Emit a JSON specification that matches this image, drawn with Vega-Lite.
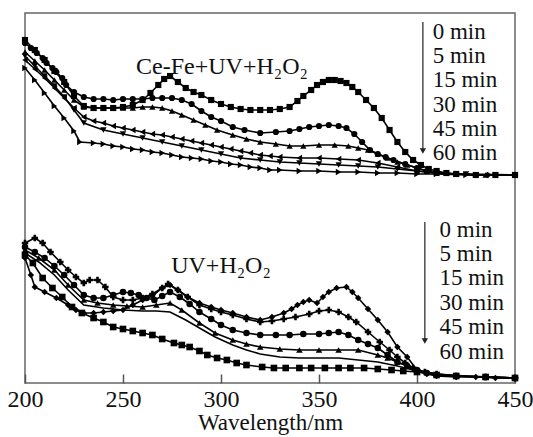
{
  "$schema": "https://vega.github.io/schema/vega-lite/v6.json",
  "width": 490,
  "height": 370,
  "autosize": "none",
  "padding": {"left": 25, "top": 13, "right": 18, "bottom": 54},
  "config": {
    "view": {"stroke": "#666", "strokeWidth": 1.5},
    "font": "Liberation Serif"
  },
  "datasets": {
    "curves": [
      {"g":"top","t":"0 min","w":200,"a":343},{"g":"top","t":"0 min","w":205,"a":333},{"g":"top","t":"0 min","w":210,"a":323},{"g":"top","t":"0 min","w":215,"a":312},{"g":"top","t":"0 min","w":220,"a":301},{"g":"top","t":"0 min","w":225,"a":287},{"g":"top","t":"0 min","w":230,"a":277},{"g":"top","t":"0 min","w":235,"a":275},{"g":"top","t":"0 min","w":240,"a":275},{"g":"top","t":"0 min","w":245,"a":275},{"g":"top","t":"0 min","w":250,"a":276},{"g":"top","t":"0 min","w":255,"a":278},{"g":"top","t":"0 min","w":260,"a":283},{"g":"top","t":"0 min","w":264,"a":290},{"g":"top","t":"0 min","w":268,"a":298},{"g":"top","t":"0 min","w":271,"a":304},{"g":"top","t":"0 min","w":274,"a":307},{"g":"top","t":"0 min","w":278,"a":301},{"g":"top","t":"0 min","w":282,"a":295},{"g":"top","t":"0 min","w":286,"a":291},{"g":"top","t":"0 min","w":290,"a":288},{"g":"top","t":"0 min","w":295,"a":283},{"g":"top","t":"0 min","w":300,"a":279},{"g":"top","t":"0 min","w":305,"a":276},{"g":"top","t":"0 min","w":310,"a":274},{"g":"top","t":"0 min","w":315,"a":273},{"g":"top","t":"0 min","w":320,"a":273},{"g":"top","t":"0 min","w":325,"a":273},{"g":"top","t":"0 min","w":330,"a":274},{"g":"top","t":"0 min","w":335,"a":276},{"g":"top","t":"0 min","w":339,"a":282},{"g":"top","t":"0 min","w":342,"a":287},{"g":"top","t":"0 min","w":346,"a":293},{"g":"top","t":"0 min","w":349,"a":298},{"g":"top","t":"0 min","w":352,"a":301},{"g":"top","t":"0 min","w":355,"a":303},{"g":"top","t":"0 min","w":358,"a":303},{"g":"top","t":"0 min","w":361,"a":302},{"g":"top","t":"0 min","w":364,"a":300},{"g":"top","t":"0 min","w":367,"a":296},{"g":"top","t":"0 min","w":370,"a":291},{"g":"top","t":"0 min","w":374,"a":283},{"g":"top","t":"0 min","w":378,"a":275},{"g":"top","t":"0 min","w":382,"a":265},{"g":"top","t":"0 min","w":386,"a":253},{"g":"top","t":"0 min","w":390,"a":241},{"g":"top","t":"0 min","w":394,"a":231},{"g":"top","t":"0 min","w":398,"a":223},{"g":"top","t":"0 min","w":402,"a":218},{"g":"top","t":"0 min","w":406,"a":214},{"g":"top","t":"0 min","w":410,"a":212},{"g":"top","t":"0 min","w":415,"a":210},{"g":"top","t":"0 min","w":420,"a":209},{"g":"top","t":"0 min","w":430,"a":208},{"g":"top","t":"0 min","w":440,"a":208},{"g":"top","t":"0 min","w":450,"a":208},

      {"g":"top","t":"5 min","w":200,"a":340},{"g":"top","t":"5 min","w":203,"a":335},{"g":"top","t":"5 min","w":206,"a":330},{"g":"top","t":"5 min","w":209,"a":325},{"g":"top","t":"5 min","w":211,"a":320},{"g":"top","t":"5 min","w":214,"a":315},{"g":"top","t":"5 min","w":216,"a":311},{"g":"top","t":"5 min","w":219,"a":305},{"g":"top","t":"5 min","w":221,"a":298},{"g":"top","t":"5 min","w":225,"a":291},{"g":"top","t":"5 min","w":230,"a":286},{"g":"top","t":"5 min","w":235,"a":284},{"g":"top","t":"5 min","w":240,"a":284},{"g":"top","t":"5 min","w":245,"a":283},{"g":"top","t":"5 min","w":250,"a":284},{"g":"top","t":"5 min","w":255,"a":284},{"g":"top","t":"5 min","w":260,"a":284},{"g":"top","t":"5 min","w":265,"a":285},{"g":"top","t":"5 min","w":270,"a":285},{"g":"top","t":"5 min","w":275,"a":285},{"g":"top","t":"5 min","w":280,"a":283},{"g":"top","t":"5 min","w":285,"a":279},{"g":"top","t":"5 min","w":290,"a":272},{"g":"top","t":"5 min","w":295,"a":266},{"g":"top","t":"5 min","w":300,"a":262},{"g":"top","t":"5 min","w":306,"a":256},{"g":"top","t":"5 min","w":312,"a":253},{"g":"top","t":"5 min","w":320,"a":250},{"g":"top","t":"5 min","w":328,"a":251},{"g":"top","t":"5 min","w":335,"a":252},{"g":"top","t":"5 min","w":340,"a":254},{"g":"top","t":"5 min","w":345,"a":256},{"g":"top","t":"5 min","w":350,"a":257},{"g":"top","t":"5 min","w":355,"a":258},{"g":"top","t":"5 min","w":360,"a":257},{"g":"top","t":"5 min","w":364,"a":255},{"g":"top","t":"5 min","w":368,"a":249},{"g":"top","t":"5 min","w":372,"a":241},{"g":"top","t":"5 min","w":376,"a":233},{"g":"top","t":"5 min","w":380,"a":229},{"g":"top","t":"5 min","w":384,"a":226},{"g":"top","t":"5 min","w":388,"a":223},{"g":"top","t":"5 min","w":394,"a":219},{"g":"top","t":"5 min","w":400,"a":215},{"g":"top","t":"5 min","w":405,"a":212},{"g":"top","t":"5 min","w":410,"a":210},{"g":"top","t":"5 min","w":420,"a":209},{"g":"top","t":"5 min","w":430,"a":208},{"g":"top","t":"5 min","w":450,"a":208},

      {"g":"top","t":"15 min","w":200,"a":331},{"g":"top","t":"15 min","w":205,"a":322},{"g":"top","t":"15 min","w":210,"a":313},{"g":"top","t":"15 min","w":215,"a":303},{"g":"top","t":"15 min","w":220,"a":293},{"g":"top","t":"15 min","w":225,"a":283},{"g":"top","t":"15 min","w":230,"a":276},{"g":"top","t":"15 min","w":235,"a":275},{"g":"top","t":"15 min","w":240,"a":275},{"g":"top","t":"15 min","w":245,"a":275},{"g":"top","t":"15 min","w":250,"a":275},{"g":"top","t":"15 min","w":255,"a":275},{"g":"top","t":"15 min","w":260,"a":276},{"g":"top","t":"15 min","w":265,"a":276},{"g":"top","t":"15 min","w":270,"a":275},{"g":"top","t":"15 min","w":275,"a":272},{"g":"top","t":"15 min","w":280,"a":268},{"g":"top","t":"15 min","w":286,"a":263},{"g":"top","t":"15 min","w":292,"a":258},{"g":"top","t":"15 min","w":298,"a":253},{"g":"top","t":"15 min","w":306,"a":248},{"g":"top","t":"15 min","w":313,"a":244},{"g":"top","t":"15 min","w":320,"a":241},{"g":"top","t":"15 min","w":328,"a":239},{"g":"top","t":"15 min","w":335,"a":237},{"g":"top","t":"15 min","w":342,"a":237},{"g":"top","t":"15 min","w":350,"a":238},{"g":"top","t":"15 min","w":358,"a":238},{"g":"top","t":"15 min","w":365,"a":237},{"g":"top","t":"15 min","w":370,"a":235},{"g":"top","t":"15 min","w":375,"a":233},{"g":"top","t":"15 min","w":380,"a":229},{"g":"top","t":"15 min","w":385,"a":225},{"g":"top","t":"15 min","w":390,"a":221},{"g":"top","t":"15 min","w":395,"a":218},{"g":"top","t":"15 min","w":400,"a":215},{"g":"top","t":"15 min","w":405,"a":212},{"g":"top","t":"15 min","w":410,"a":210},{"g":"top","t":"15 min","w":420,"a":209},{"g":"top","t":"15 min","w":435,"a":208},{"g":"top","t":"15 min","w":450,"a":208},

      {"g":"top","t":"30 min","w":200,"a":323},{"g":"top","t":"30 min","w":205,"a":314},{"g":"top","t":"30 min","w":210,"a":305},{"g":"top","t":"30 min","w":215,"a":295},{"g":"top","t":"30 min","w":220,"a":285},{"g":"top","t":"30 min","w":225,"a":275},{"g":"top","t":"30 min","w":230,"a":266},{"g":"top","t":"30 min","w":235,"a":262},{"g":"top","t":"30 min","w":240,"a":260},{"g":"top","t":"30 min","w":245,"a":257},{"g":"top","t":"30 min","w":250,"a":255},{"g":"top","t":"30 min","w":255,"a":253},{"g":"top","t":"30 min","w":260,"a":251},{"g":"top","t":"30 min","w":265,"a":249},{"g":"top","t":"30 min","w":270,"a":248},{"g":"top","t":"30 min","w":275,"a":246},{"g":"top","t":"30 min","w":280,"a":244},{"g":"top","t":"30 min","w":285,"a":242},{"g":"top","t":"30 min","w":290,"a":240},{"g":"top","t":"30 min","w":295,"a":238},{"g":"top","t":"30 min","w":300,"a":236},{"g":"top","t":"30 min","w":305,"a":234},{"g":"top","t":"30 min","w":310,"a":232},{"g":"top","t":"30 min","w":315,"a":230},{"g":"top","t":"30 min","w":320,"a":228},{"g":"top","t":"30 min","w":325,"a":227},{"g":"top","t":"30 min","w":330,"a":226},{"g":"top","t":"30 min","w":340,"a":225},{"g":"top","t":"30 min","w":350,"a":225},{"g":"top","t":"30 min","w":360,"a":224},{"g":"top","t":"30 min","w":370,"a":223},{"g":"top","t":"30 min","w":380,"a":220},{"g":"top","t":"30 min","w":390,"a":216},{"g":"top","t":"30 min","w":400,"a":212},{"g":"top","t":"30 min","w":410,"a":210},{"g":"top","t":"30 min","w":420,"a":209},{"g":"top","t":"30 min","w":435,"a":208},{"g":"top","t":"30 min","w":450,"a":208},

      {"g":"top","t":"45 min","w":200,"a":327},{"g":"top","t":"45 min","w":205,"a":317},{"g":"top","t":"45 min","w":210,"a":307},{"g":"top","t":"45 min","w":215,"a":297},{"g":"top","t":"45 min","w":220,"a":286},{"g":"top","t":"45 min","w":225,"a":273},{"g":"top","t":"45 min","w":230,"a":260},{"g":"top","t":"45 min","w":240,"a":253},{"g":"top","t":"45 min","w":250,"a":249},{"g":"top","t":"45 min","w":260,"a":245},{"g":"top","t":"45 min","w":270,"a":241},{"g":"top","t":"45 min","w":280,"a":237},{"g":"top","t":"45 min","w":290,"a":233},{"g":"top","t":"45 min","w":300,"a":229},{"g":"top","t":"45 min","w":310,"a":225},{"g":"top","t":"45 min","w":320,"a":223},{"g":"top","t":"45 min","w":330,"a":221},{"g":"top","t":"45 min","w":340,"a":220},{"g":"top","t":"45 min","w":350,"a":219},{"g":"top","t":"45 min","w":360,"a":218},{"g":"top","t":"45 min","w":370,"a":217},{"g":"top","t":"45 min","w":380,"a":216},{"g":"top","t":"45 min","w":390,"a":214},{"g":"top","t":"45 min","w":400,"a":212},{"g":"top","t":"45 min","w":410,"a":210},{"g":"top","t":"45 min","w":425,"a":209},{"g":"top","t":"45 min","w":450,"a":208},

      {"g":"top","t":"60 min","w":200,"a":315},{"g":"top","t":"60 min","w":205,"a":303},{"g":"top","t":"60 min","w":210,"a":290},{"g":"top","t":"60 min","w":215,"a":277},{"g":"top","t":"60 min","w":220,"a":265},{"g":"top","t":"60 min","w":225,"a":252},{"g":"top","t":"60 min","w":228,"a":241},{"g":"top","t":"60 min","w":235,"a":240},{"g":"top","t":"60 min","w":240,"a":239},{"g":"top","t":"60 min","w":245,"a":237},{"g":"top","t":"60 min","w":250,"a":236},{"g":"top","t":"60 min","w":255,"a":234},{"g":"top","t":"60 min","w":260,"a":233},{"g":"top","t":"60 min","w":265,"a":231},{"g":"top","t":"60 min","w":270,"a":230},{"g":"top","t":"60 min","w":275,"a":228},{"g":"top","t":"60 min","w":280,"a":226},{"g":"top","t":"60 min","w":285,"a":225},{"g":"top","t":"60 min","w":290,"a":224},{"g":"top","t":"60 min","w":295,"a":222},{"g":"top","t":"60 min","w":300,"a":221},{"g":"top","t":"60 min","w":305,"a":219},{"g":"top","t":"60 min","w":310,"a":218},{"g":"top","t":"60 min","w":315,"a":216},{"g":"top","t":"60 min","w":320,"a":215},{"g":"top","t":"60 min","w":325,"a":213},{"g":"top","t":"60 min","w":330,"a":213},{"g":"top","t":"60 min","w":340,"a":212},{"g":"top","t":"60 min","w":350,"a":212},{"g":"top","t":"60 min","w":360,"a":211},{"g":"top","t":"60 min","w":370,"a":211},{"g":"top","t":"60 min","w":380,"a":210},{"g":"top","t":"60 min","w":390,"a":210},{"g":"top","t":"60 min","w":400,"a":209},{"g":"top","t":"60 min","w":410,"a":209},{"g":"top","t":"60 min","w":425,"a":208},{"g":"top","t":"60 min","w":437,"a":208},{"g":"top","t":"60 min","w":450,"a":208},

      {"g":"bot","t":"0 min","w":200,"a":125},{"g":"bot","t":"0 min","w":203,"a":108},{"g":"bot","t":"0 min","w":205,"a":96},{"g":"bot","t":"0 min","w":210,"a":91},{"g":"bot","t":"0 min","w":216,"a":85},{"g":"bot","t":"0 min","w":222,"a":78},{"g":"bot","t":"0 min","w":226,"a":73},{"g":"bot","t":"0 min","w":230,"a":70},{"g":"bot","t":"0 min","w":235,"a":70},{"g":"bot","t":"0 min","w":240,"a":71},{"g":"bot","t":"0 min","w":245,"a":72},{"g":"bot","t":"0 min","w":250,"a":73},{"g":"bot","t":"0 min","w":255,"a":78},{"g":"bot","t":"0 min","w":260,"a":83},{"g":"bot","t":"0 min","w":265,"a":87},{"g":"bot","t":"0 min","w":270,"a":95},{"g":"bot","t":"0 min","w":274,"a":98},{"g":"bot","t":"0 min","w":278,"a":93},{"g":"bot","t":"0 min","w":283,"a":86},{"g":"bot","t":"0 min","w":289,"a":80},{"g":"bot","t":"0 min","w":295,"a":76},{"g":"bot","t":"0 min","w":300,"a":73},{"g":"bot","t":"0 min","w":306,"a":70},{"g":"bot","t":"0 min","w":313,"a":66},{"g":"bot","t":"0 min","w":320,"a":63},{"g":"bot","t":"0 min","w":326,"a":66},{"g":"bot","t":"0 min","w":332,"a":70},{"g":"bot","t":"0 min","w":336,"a":74},{"g":"bot","t":"0 min","w":339,"a":78},{"g":"bot","t":"0 min","w":342,"a":81},{"g":"bot","t":"0 min","w":345,"a":83},{"g":"bot","t":"0 min","w":349,"a":80},{"g":"bot","t":"0 min","w":352,"a":86},{"g":"bot","t":"0 min","w":355,"a":91},{"g":"bot","t":"0 min","w":359,"a":95},{"g":"bot","t":"0 min","w":364,"a":96},{"g":"bot","t":"0 min","w":367,"a":91},{"g":"bot","t":"0 min","w":370,"a":85},{"g":"bot","t":"0 min","w":375,"a":74},{"g":"bot","t":"0 min","w":380,"a":63},{"g":"bot","t":"0 min","w":385,"a":51},{"g":"bot","t":"0 min","w":390,"a":36},{"g":"bot","t":"0 min","w":395,"a":26},{"g":"bot","t":"0 min","w":400,"a":13},{"g":"bot","t":"0 min","w":405,"a":9},{"g":"bot","t":"0 min","w":410,"a":7},{"g":"bot","t":"0 min","w":420,"a":6},{"g":"bot","t":"0 min","w":430,"a":6},{"g":"bot","t":"0 min","w":440,"a":5},{"g":"bot","t":"0 min","w":450,"a":5},

      {"g":"bot","t":"5 min","w":200,"a":140},{"g":"bot","t":"5 min","w":205,"a":145},{"g":"bot","t":"5 min","w":209,"a":140},{"g":"bot","t":"5 min","w":213,"a":131},{"g":"bot","t":"5 min","w":218,"a":121},{"g":"bot","t":"5 min","w":222,"a":113},{"g":"bot","t":"5 min","w":226,"a":106},{"g":"bot","t":"5 min","w":230,"a":100},{"g":"bot","t":"5 min","w":233,"a":103},{"g":"bot","t":"5 min","w":237,"a":103},{"g":"bot","t":"5 min","w":241,"a":96},{"g":"bot","t":"5 min","w":245,"a":86},{"g":"bot","t":"5 min","w":250,"a":83},{"g":"bot","t":"5 min","w":255,"a":83},{"g":"bot","t":"5 min","w":260,"a":85},{"g":"bot","t":"5 min","w":265,"a":89},{"g":"bot","t":"5 min","w":270,"a":95},{"g":"bot","t":"5 min","w":273,"a":99},{"g":"bot","t":"5 min","w":278,"a":93},{"g":"bot","t":"5 min","w":283,"a":86},{"g":"bot","t":"5 min","w":289,"a":78},{"g":"bot","t":"5 min","w":295,"a":74},{"g":"bot","t":"5 min","w":300,"a":71},{"g":"bot","t":"5 min","w":306,"a":68},{"g":"bot","t":"5 min","w":313,"a":64},{"g":"bot","t":"5 min","w":320,"a":61},{"g":"bot","t":"5 min","w":326,"a":62},{"g":"bot","t":"5 min","w":332,"a":64},{"g":"bot","t":"5 min","w":338,"a":66},{"g":"bot","t":"5 min","w":345,"a":69},{"g":"bot","t":"5 min","w":350,"a":72},{"g":"bot","t":"5 min","w":355,"a":73},{"g":"bot","t":"5 min","w":360,"a":71},{"g":"bot","t":"5 min","w":365,"a":66},{"g":"bot","t":"5 min","w":369,"a":61},{"g":"bot","t":"5 min","w":375,"a":51},{"g":"bot","t":"5 min","w":381,"a":41},{"g":"bot","t":"5 min","w":386,"a":33},{"g":"bot","t":"5 min","w":390,"a":26},{"g":"bot","t":"5 min","w":394,"a":20},{"g":"bot","t":"5 min","w":398,"a":15},{"g":"bot","t":"5 min","w":404,"a":11},{"g":"bot","t":"5 min","w":410,"a":9},{"g":"bot","t":"5 min","w":420,"a":7},{"g":"bot","t":"5 min","w":435,"a":6},{"g":"bot","t":"5 min","w":450,"a":5},

      {"g":"bot","t":"15 min","w":200,"a":136},{"g":"bot","t":"15 min","w":205,"a":131},{"g":"bot","t":"15 min","w":210,"a":125},{"g":"bot","t":"15 min","w":215,"a":117},{"g":"bot","t":"15 min","w":220,"a":108},{"g":"bot","t":"15 min","w":225,"a":98},{"g":"bot","t":"15 min","w":230,"a":88},{"g":"bot","t":"15 min","w":235,"a":85},{"g":"bot","t":"15 min","w":240,"a":85},{"g":"bot","t":"15 min","w":245,"a":88},{"g":"bot","t":"15 min","w":250,"a":91},{"g":"bot","t":"15 min","w":254,"a":90},{"g":"bot","t":"15 min","w":258,"a":88},{"g":"bot","t":"15 min","w":262,"a":85},{"g":"bot","t":"15 min","w":266,"a":83},{"g":"bot","t":"15 min","w":270,"a":87},{"g":"bot","t":"15 min","w":274,"a":91},{"g":"bot","t":"15 min","w":279,"a":86},{"g":"bot","t":"15 min","w":284,"a":79},{"g":"bot","t":"15 min","w":289,"a":71},{"g":"bot","t":"15 min","w":295,"a":64},{"g":"bot","t":"15 min","w":300,"a":58},{"g":"bot","t":"15 min","w":306,"a":53},{"g":"bot","t":"15 min","w":313,"a":50},{"g":"bot","t":"15 min","w":320,"a":48},{"g":"bot","t":"15 min","w":328,"a":48},{"g":"bot","t":"15 min","w":335,"a":48},{"g":"bot","t":"15 min","w":342,"a":49},{"g":"bot","t":"15 min","w":350,"a":49},{"g":"bot","t":"15 min","w":355,"a":50},{"g":"bot","t":"15 min","w":360,"a":51},{"g":"bot","t":"15 min","w":365,"a":48},{"g":"bot","t":"15 min","w":370,"a":43},{"g":"bot","t":"15 min","w":375,"a":39},{"g":"bot","t":"15 min","w":380,"a":35},{"g":"bot","t":"15 min","w":385,"a":28},{"g":"bot","t":"15 min","w":390,"a":21},{"g":"bot","t":"15 min","w":395,"a":17},{"g":"bot","t":"15 min","w":400,"a":13},{"g":"bot","t":"15 min","w":405,"a":10},{"g":"bot","t":"15 min","w":410,"a":8},{"g":"bot","t":"15 min","w":420,"a":7},{"g":"bot","t":"15 min","w":435,"a":6},{"g":"bot","t":"15 min","w":450,"a":5},

      {"g":"bot","t":"30 min","w":200,"a":133},{"g":"bot","t":"30 min","w":207,"a":125},{"g":"bot","t":"30 min","w":215,"a":113},{"g":"bot","t":"30 min","w":222,"a":98},{"g":"bot","t":"30 min","w":230,"a":83},{"g":"bot","t":"30 min","w":237,"a":80},{"g":"bot","t":"30 min","w":245,"a":78},{"g":"bot","t":"30 min","w":252,"a":77},{"g":"bot","t":"30 min","w":260,"a":76},{"g":"bot","t":"30 min","w":267,"a":78},{"g":"bot","t":"30 min","w":274,"a":80},{"g":"bot","t":"30 min","w":280,"a":73},{"g":"bot","t":"30 min","w":289,"a":60},{"g":"bot","t":"30 min","w":297,"a":50},{"g":"bot","t":"30 min","w":306,"a":43},{"g":"bot","t":"30 min","w":313,"a":39},{"g":"bot","t":"30 min","w":320,"a":36},{"g":"bot","t":"30 min","w":330,"a":34},{"g":"bot","t":"30 min","w":340,"a":33},{"g":"bot","t":"30 min","w":350,"a":33},{"g":"bot","t":"30 min","w":360,"a":33},{"g":"bot","t":"30 min","w":370,"a":33},{"g":"bot","t":"30 min","w":380,"a":28},{"g":"bot","t":"30 min","w":385,"a":25},{"g":"bot","t":"30 min","w":390,"a":21},{"g":"bot","t":"30 min","w":395,"a":17},{"g":"bot","t":"30 min","w":400,"a":13},{"g":"bot","t":"30 min","w":410,"a":9},{"g":"bot","t":"30 min","w":420,"a":7},{"g":"bot","t":"30 min","w":435,"a":6},{"g":"bot","t":"30 min","w":450,"a":5},

      {"g":"bot","t":"45 min","w":200,"a":130},{"g":"bot","t":"45 min","w":207,"a":121},{"g":"bot","t":"45 min","w":215,"a":108},{"g":"bot","t":"45 min","w":222,"a":93},{"g":"bot","t":"45 min","w":230,"a":78},{"g":"bot","t":"45 min","w":240,"a":75},{"g":"bot","t":"45 min","w":250,"a":73},{"g":"bot","t":"45 min","w":260,"a":72},{"g":"bot","t":"45 min","w":267,"a":72},{"g":"bot","t":"45 min","w":274,"a":71},{"g":"bot","t":"45 min","w":282,"a":63},{"g":"bot","t":"45 min","w":289,"a":55},{"g":"bot","t":"45 min","w":297,"a":46},{"g":"bot","t":"45 min","w":306,"a":38},{"g":"bot","t":"45 min","w":313,"a":33},{"g":"bot","t":"45 min","w":320,"a":29},{"g":"bot","t":"45 min","w":330,"a":26},{"g":"bot","t":"45 min","w":340,"a":25},{"g":"bot","t":"45 min","w":350,"a":25},{"g":"bot","t":"45 min","w":360,"a":25},{"g":"bot","t":"45 min","w":370,"a":23},{"g":"bot","t":"45 min","w":380,"a":21},{"g":"bot","t":"45 min","w":390,"a":17},{"g":"bot","t":"45 min","w":400,"a":12},{"g":"bot","t":"45 min","w":410,"a":9},{"g":"bot","t":"45 min","w":425,"a":7},{"g":"bot","t":"45 min","w":450,"a":5},

      {"g":"bot","t":"60 min","w":200,"a":128},{"g":"bot","t":"60 min","w":204,"a":120},{"g":"bot","t":"60 min","w":209,"a":105},{"g":"bot","t":"60 min","w":214,"a":95},{"g":"bot","t":"60 min","w":219,"a":86},{"g":"bot","t":"60 min","w":224,"a":76},{"g":"bot","t":"60 min","w":229,"a":70},{"g":"bot","t":"60 min","w":235,"a":65},{"g":"bot","t":"60 min","w":240,"a":61},{"g":"bot","t":"60 min","w":245,"a":56},{"g":"bot","t":"60 min","w":250,"a":54},{"g":"bot","t":"60 min","w":255,"a":52},{"g":"bot","t":"60 min","w":260,"a":50},{"g":"bot","t":"60 min","w":265,"a":48},{"g":"bot","t":"60 min","w":270,"a":44},{"g":"bot","t":"60 min","w":276,"a":40},{"g":"bot","t":"60 min","w":280,"a":38},{"g":"bot","t":"60 min","w":284,"a":36},{"g":"bot","t":"60 min","w":289,"a":32},{"g":"bot","t":"60 min","w":293,"a":28},{"g":"bot","t":"60 min","w":298,"a":25},{"g":"bot","t":"60 min","w":303,"a":23},{"g":"bot","t":"60 min","w":308,"a":20},{"g":"bot","t":"60 min","w":313,"a":18},{"g":"bot","t":"60 min","w":321,"a":16},{"g":"bot","t":"60 min","w":327,"a":15},{"g":"bot","t":"60 min","w":333,"a":15},{"g":"bot","t":"60 min","w":340,"a":15},{"g":"bot","t":"60 min","w":346,"a":15},{"g":"bot","t":"60 min","w":353,"a":15},{"g":"bot","t":"60 min","w":360,"a":15},{"g":"bot","t":"60 min","w":366,"a":15},{"g":"bot","t":"60 min","w":373,"a":15},{"g":"bot","t":"60 min","w":380,"a":14},{"g":"bot","t":"60 min","w":387,"a":13},{"g":"bot","t":"60 min","w":393,"a":12},{"g":"bot","t":"60 min","w":400,"a":11},{"g":"bot","t":"60 min","w":410,"a":8},{"g":"bot","t":"60 min","w":420,"a":7},{"g":"bot","t":"60 min","w":435,"a":6},{"g":"bot","t":"60 min","w":450,"a":5}
    ],
    "titles": [
      {"label": "Ce-Fe+UV+H₂O₂", "w": 300.5, "a": 316},
      {"label": "UV+H₂O₂", "w": 300, "a": 117}
    ],
    "legend": [
      {"label": "0 min", "w": 408, "a": 351},
      {"label": "5 min", "w": 408, "a": 326.8},
      {"label": "15 min", "w": 408, "a": 302.6},
      {"label": "30 min", "w": 408, "a": 278.4},
      {"label": "45 min", "w": 408, "a": 254.2},
      {"label": "60 min", "w": 408, "a": 230},
      {"label": "0 min", "w": 411.5, "a": 153.5},
      {"label": "5 min", "w": 411.5, "a": 129.1},
      {"label": "15 min", "w": 411.5, "a": 104.7},
      {"label": "30 min", "w": 411.5, "a": 80.3},
      {"label": "45 min", "w": 411.5, "a": 55.9},
      {"label": "60 min", "w": 411.5, "a": 31.5}
    ],
    "arrows": [
      {"w": 403, "a": 361, "a2": 232},
      {"w": 404, "a": 161, "a2": 42}
    ]
  },
  "layer": [
    {
      "data": {"name": "curves"},
      "transform": [{"calculate": "datum.g + '|' + datum.t", "as": "key"}],
      "mark": {"type": "line", "color": "black", "strokeWidth": 1.6},
      "encoding": {
        "x": {"field": "w", "type": "quantitative", "scale": {"domain": [200, 450], "nice": false},
          "axis": {"values": [200, 250, 300, 350, 400, 450], "domain": false, "grid": false,
            "ticks": true, "tickSize": -9, "tickColor": "#555", "tickWidth": 1.5, "labelFontSize": 24, "labelColor": "#111",
            "labelFont": "Liberation Serif", "labelPadding": 13, "labelFlush": false,
            "title": "Wavelength/nm", "titleFont": "Liberation Serif", "titleFontSize": 23,
            "titleFontWeight": "normal", "titleColor": "#111", "titlePadding": 0}},
        "y": {"field": "a", "type": "quantitative", "scale": {"domain": [0, 370], "nice": false}, "axis": null},
        "detail": {"field": "key"}
      }
    },
    {
      "data": {"name": "curves"},
      "transform": [
        {"calculate": "datum.g + '|' + datum.t", "as": "key"},
        {"filter": "datum.key != 'bot|45 min'"}
      ],
      "mark": {"type": "point", "filled": true, "color": "black", "opacity": 1},
      "encoding": {
        "x": {"field": "w", "type": "quantitative"},
        "y": {"field": "a", "type": "quantitative"},
        "shape": {"field": "key", "type": "nominal", "legend": null,
          "scale": {"domain": ["top|0 min","top|5 min","top|15 min","top|30 min","top|45 min","top|60 min","bot|0 min","bot|5 min","bot|15 min","bot|30 min","bot|60 min"],
            "range": ["square","circle","triangle-up","triangle-left","triangle-down","triangle-right","diamond","cross","circle","triangle-up","square"]}},
        "size": {"field": "key", "type": "nominal", "legend": null,
          "scale": {"domain": ["top|0 min","top|5 min","top|15 min","top|30 min","top|45 min","top|60 min","bot|0 min","bot|5 min","bot|15 min","bot|30 min","bot|60 min"],
            "range": [38, 44, 24, 24, 20, 24, 32, 18, 44, 20, 38]}}
      }
    },
    {
      "data": {"name": "arrows"},
      "mark": {"type": "rule", "color": "#333", "strokeWidth": 1.3},
      "encoding": {
        "x": {"field": "w", "type": "quantitative"},
        "y": {"field": "a", "type": "quantitative"},
        "y2": {"field": "a2"}
      }
    },
    {
      "data": {"name": "arrows"},
      "mark": {"type": "point", "shape": "triangle-down", "filled": true, "color": "#222", "size": 40, "opacity": 1},
      "encoding": {
        "x": {"field": "w", "type": "quantitative"},
        "y": {"field": "a2", "type": "quantitative"}
      }
    },
    {
      "data": {"name": "titles"},
      "mark": {"type": "text", "font": "Liberation Serif", "fontSize": 24, "align": "center", "baseline": "middle", "color": "#111"},
      "encoding": {
        "x": {"field": "w", "type": "quantitative"},
        "y": {"field": "a", "type": "quantitative"},
        "text": {"field": "label"}
      }
    },
    {
      "data": {"name": "legend"},
      "mark": {"type": "text", "font": "Liberation Serif", "fontSize": 23, "align": "left", "baseline": "middle", "color": "#111"},
      "encoding": {
        "x": {"field": "w", "type": "quantitative"},
        "y": {"field": "a", "type": "quantitative"},
        "text": {"field": "label"}
      }
    }
  ]
}
